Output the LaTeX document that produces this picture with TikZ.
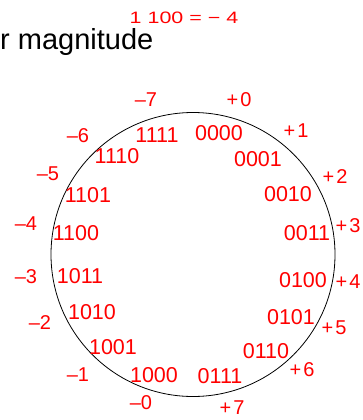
\documentclass[tikz,border=0pt]{standalone}
\usepackage{fontspec}
\setmainfont{Liberation Sans}
\usetikzlibrary{positioning}
\definecolor{numred}{HTML}{FF0000}

\begin{document}
\begin{tikzpicture}[x=1pt, y=-1pt,
    code/.style={text=numred, inner sep=0pt, font=\fontsize{21.5}{21.5}\selectfont},
    val/.style={text=numred, inner sep=0pt, font=\fontsize{20}{20}\selectfont}]
  \useasboundingbox (0,0) rectangle (363,420);
  \node[anchor=base west, inner sep=0pt, font=\fontsize{29}{29}\selectfont] (title) at (0,50) {r magnitude};
  \node[val, anchor=base, font=\fontsize{16.5}{16.5}\selectfont\addfontfeature{FakeStretch=1.3}] (example) at (184,23.3) {1 100 = − 4};
  % the code wheel
  \node[circle, draw, line width=0.8pt, minimum size=284pt, inner sep=0pt] (wheel) at (193,254.5) {};
  \foreach \x/\y/\t in {219/133/0000, 258/159/0001, 288/194/0010, 307/233/0011,
      303/280/0100, 291/317/0101, 266/351/0110, 220/376/0111,
      154/375/1000, 113/347/1001, 92/312/1010, 80/276/1011,
      76/233/1100, 88/195/1101, 117/156/1110, 157/135/1111}
    \node[code] (c\t) at (\x,\y) {\t};
  % values outside
  \foreach \x/\y/\t/\n in {239/100/+\kern2pt{}0/p0, 296/131/+\kern2pt{}1/p1, 335/177/+\kern2pt{}2/p2, 348/226/+\kern2pt{}3/p3,
      348/282/+\kern2pt{}4/p4, 334/328/+\kern2pt{}5/p5, 302/370/+\kern2pt{}6/p6, 232/408/+\kern2pt{}7/p7,
      141/403/--0/m0, 78/375/--1/m1, 40/323/--2/m2, 26/277/--3/m3,
      26/224/--4/m4, 48/174/--5/m5, 78/136/--6/m6, 146/100/--7/m7}
    \node[val] (v\n) at (\x,\y) {\t};
\end{tikzpicture}
\end{document}
